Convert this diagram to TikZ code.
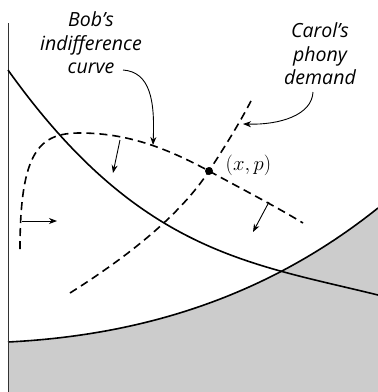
\documentclass[tikz,border=0pt]{standalone}
\usepackage{xcolor}
\usepackage{fontspec}
\newfontfamily\handfont{Open Sans}
\usepackage{tikz}
\usetikzlibrary{arrows.meta}
\definecolor{regiongray}{gray}{0.8}

\begin{document}
\begin{tikzpicture}[x=1bp,y=-1bp,
    curve/.style={line width=1.6bp},
    phony/.style={line width=1.6bp,dash pattern=on 8bp off 5bp},
    tick/.style={line width=0.9bp,-{Stealth[length=8bp,width=6bp,inset=2.5bp]}},
    lbl/.style={font=\handfont\itshape\fontsize{19.6}{23.5}\selectfont,align=center}]
    \useasboundingbox (0,0) rectangle (378,392);
    % Feasible region
    \fill[regiongray] (8,342) .. controls (128,336) and (258,304) .. (378,208)
          -- (378,392) -- (8,392) -- cycle;
    \draw[curve] (8,342) .. controls (128,336) and (258,304) .. (378,208);
    % Axis
    \draw[line width=1bp,black!80] (8,23) -- (8,392);
    % Decreasing curve
    \draw[curve] (8,70) .. controls (138,252) and (248,263) .. (378,295);
    % The point
    \node[circle,fill,inner sep=0pt,minimum size=8bp] (pt) at (209,171) {};
    \node[anchor=west,font=\fontsize{20}{24}\selectfont] (xp)
          at ([xshift=9bp,yshift=6bp]pt.east) {$(x,p)$};
    % Bob's indifference curve
    \draw[phony] (20,249) .. controls (20,150) and (40,133) .. (80,133)
          .. controls (130,133) and (170,150) .. (pt.center)
          .. controls (240,188) and (275,206) .. (303,223);
    % Carol's phony demand
    \draw[phony] (70,293) .. controls (130,255) and (180,215) .. (pt.center)
          .. controls (228,142) and (243,117) .. (253,97);
    % Little arrows off Bob's curve
    \coordinate (b1) at (120,140); \coordinate (b1h) at (113,173);
    \coordinate (b2) at (22,221);  \coordinate (b2h) at (57,221);
    \coordinate (b3) at (269,202); \coordinate (b3h) at (253,232);
    \foreach \a in {b1,b2,b3}
        \draw[tick] (\a) -- (\a h);
    % Labels
    \node[lbl] (bob) at (91,43) {Bob’s\\indifference\\curve};
    \node[lbl] (carol) at (320,54) {Carol’s\\phony\\demand};
    \coordinate (bobtail) at (123,70);
    \coordinate (bobhead) at (153,145);
    \coordinate (caroltail) at (313,92);
    \coordinate (carolhead) at (243,124);
    \draw[tick] (bobtail) .. controls (150,72) and (155,100) .. (bobhead);
    \draw[tick] (caroltail) .. controls (312,115) and (280,125) .. (carolhead);
\end{tikzpicture}
\end{document}
